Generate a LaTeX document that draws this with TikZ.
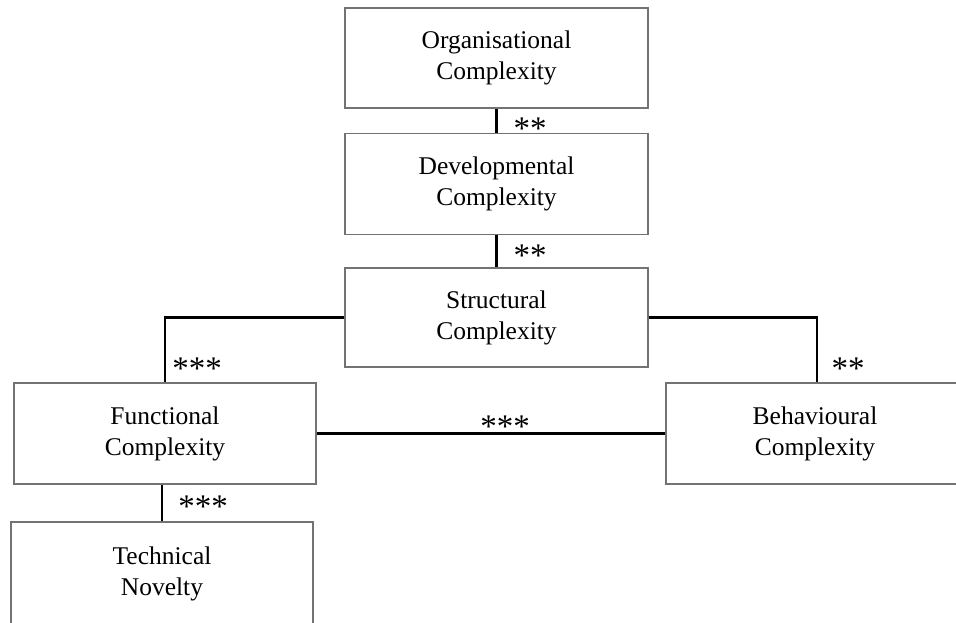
\documentclass[tikz,border=0pt]{standalone}
\usepackage{fontspec}
\setmainfont{Liberation Serif}
\usepackage{tikz}

\begin{document}
\begin{tikzpicture}[x=1pt, y=-1pt,
        box/.style={draw=black!55, line width=1.2pt, fill=white, align=center,
                    font=\fontsize{25.5}{31}\selectfont},
        link/.style={line width=2.4pt, black},
        stars/.style={font=\fontsize{33}{33}\selectfont, inner sep=0pt}]
        \useasboundingbox (0,0) rectangle (956,623);

        % Define the six complexity boxes
        \node[box, minimum width=303pt, minimum height=100pt] (org) at (496.5,58) {Organisational\\Complexity};
        \node[box, minimum width=303pt, minimum height=101pt] (dev) at (496.5,184) {Developmental\\Complexity};
        \node[box, minimum width=303pt, minimum height=99pt] (struct) at (496.5,317.5) {Structural\\Complexity};
        \node[box, minimum width=302pt, minimum height=101pt] (func) at (165,433.5) {Functional\\Complexity};
        \node[box, minimum width=298pt, minimum height=101pt] (behav) at (815,433.5) {Behavioural\\Complexity};
        \node[box, minimum width=302pt, minimum height=104pt] (tech) at (162,574) {Technical\\Novelty};

        % Draw the links between them
        \draw[link] (org) -- (dev);
        \draw[link] (dev) -- (struct);
        \draw[link] (struct.west) -| (func.north);
        \draw[link] (struct.east) -| ([xshift=2pt]behav.north);
        \draw[link] (func.east) -- (behav.west);
        \draw[link] ([xshift=-3pt]func.south) -- (tech.north);

        % Significance stars
        \node[stars] (s1) at (530,129) {**};
        \node[stars] (s2) at (530,256) {**};
        \node[stars] (s3) at (197,369) {***};
        \node[stars] (s4) at (848,369) {**};
        \node[stars] (s5) at (505,427) {***};
        \node[stars] (s6) at (203,507) {***};
    \end{tikzpicture}
\end{document}
